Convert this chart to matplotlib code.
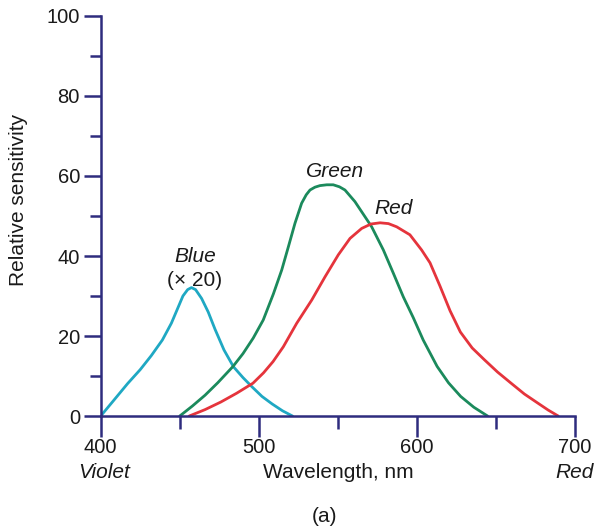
"""
Cone sensitivity curves (blue x20, green, red) vs wavelength.
Run : python plot.py  -> out.png
"""

import matplotlib
matplotlib.use("Agg")
import matplotlib.pyplot as plt
from matplotlib.ticker import MultipleLocator

# ── Data ──────────────────────────────────────────────────────
blue_nm  = [400, 408, 417, 425, 432, 439, 444.7, 449, 452, 455, 457.4, 460,
            463.8, 468, 472.3, 478, 484, 490, 495.7, 502, 508.5, 515, 521.3]
blue_val = [0, 3.8, 8.1, 11.6, 15.1, 19, 23.2, 27.2, 30, 31.6, 32.1, 31.6,
            29.4, 26, 21.7, 16.5, 12.3, 9.6, 7.3, 4.9, 3.0, 1.3, 0]

green_nm  = [450, 458, 466, 474, 483.7, 490, 496.5, 502.8, 509.2, 514.5, 518.7,
             522.9, 527.1, 530, 532.4, 535.5, 538.7, 543, 547.1, 551, 554.5,
             560.8, 567.2, 571.4, 578.8, 585.1, 591.4, 597.7, 604, 612.8, 620,
             627.7, 636, 644.7]
green_val = [0, 2.5, 5.2, 8.3, 12.4, 15.6, 19.5, 24, 30.5, 36.5, 42.3,
             48.2, 53.2, 55.3, 56.5, 57.2, 57.6, 57.8, 57.8, 57.3, 56.5,
             53.6, 49.8, 47.3, 41.5, 35.7, 29.8, 24.6, 19, 12.4, 8.3,
             4.9, 2.2, 0]

red_nm  = [456, 466, 476, 486, 496.3, 503, 509, 515.5, 524, 533.5, 541.9,
           550.3, 557.7, 565.1, 571, 576.7, 582, 587.2, 595.6, 603, 608.3,
           614.6, 621, 627.5, 635, 642.6, 651, 659.6, 668, 676.6, 683, 689.4]
red_val = [0, 1.6, 3.5, 5.7, 8.2, 10.8, 13.6, 17.3, 23.2, 29, 34.8,
           40.3, 44.4, 46.9, 48, 48.3, 48.1, 47.3, 45.3, 41.5, 38.3,
           32.5, 26.3, 21, 17, 14.1, 11, 8.2, 5.5, 3.2, 1.5, 0]

x_ticks = [400, 500, 600, 700]
y_ticks = [0, 20, 40, 60, 80, 100]

# ── Style ─────────────────────────────────────────────────────
AXIS_COLOR  = "#2e2c7e"
BLUE_COLOR  = "#1fa8c3"
GREEN_COLOR = "#1b8a5c"
RED_COLOR   = "#e5343c"
TEXT_COLOR  = "#1a1a1a"
FS      = 15
TICK_FS = 14.5

plt.rcParams["font.family"] = ["Liberation Sans", "DejaVu Sans"]

fig = plt.figure(figsize=(5.97, 5.26), dpi=100)
ax = fig.add_axes([0.1687, 0.2091, 0.9631 - 0.1687, 0.9696 - 0.2091])

for nm, val, col in [(blue_nm, blue_val, BLUE_COLOR),
                     (green_nm, green_val, GREEN_COLOR),
                     (red_nm, red_val, RED_COLOR)]:
    ax.plot(nm, val, color=col, linewidth=2.0, solid_joinstyle="round",
            solid_capstyle="round", zorder=3)

ax.set_xlim(400, 700)
ax.set_ylim(0, 100)
ax.set_xticks(x_ticks)
ax.set_yticks(y_ticks)
ax.xaxis.set_minor_locator(MultipleLocator(50))
ax.yaxis.set_minor_locator(MultipleLocator(10))

for side in ("top", "right"):
    ax.spines[side].set_visible(False)
for side in ("left", "bottom"):
    ax.spines[side].set_color(AXIS_COLOR)
    ax.spines[side].set_linewidth(1.8)
    ax.spines[side].set_zorder(4)

ax.tick_params(axis="y", which="major", direction="out", length=12,
               width=1.8, color=AXIS_COLOR, labelsize=TICK_FS,
               labelcolor=TEXT_COLOR, pad=3)
ax.tick_params(axis="y", which="minor", direction="out", length=8,
               width=1.8, color=AXIS_COLOR)
ax.tick_params(axis="x", which="major", direction="out", length=15,
               width=1.8, color=AXIS_COLOR, labelsize=TICK_FS,
               labelcolor=TEXT_COLOR, pad=1)
ax.tick_params(axis="x", which="minor", direction="out", length=9,
               width=1.8, color=AXIS_COLOR)
for t in ax.get_xticklines() + ax.get_yticklines():
    t.set_clip_on(False)

ax.set_ylabel("Relative sensitivity", fontsize=FS, color=TEXT_COLOR)
ax.yaxis.set_label_coords(-0.153, 0.54)

# ── Annotations ───────────────────────────────────────────────
ax.text(459.6, 40, "Blue", fontsize=FS, style="italic", color=TEXT_COLOR,
        ha="center", va="center")
ax.text(459.6, 33.8, "(\u00d7 20)", fontsize=FS, color=TEXT_COLOR,
        ha="center", va="center")
ax.text(548, 61, "Green", fontsize=FS, style="italic", color=TEXT_COLOR,
        ha="center", va="center")
ax.text(585, 52, "Red", fontsize=FS, style="italic", color=TEXT_COLOR,
        ha="center", va="center")

# texts below the x axis (figure coords)
fig.text(104 / 597, 1 - 472 / 526, "Violet", fontsize=FS, style="italic",
         color=TEXT_COLOR, ha="center", va="center")
fig.text(575 / 597, 1 - 472 / 526, "Red", fontsize=FS, style="italic",
         color=TEXT_COLOR, ha="center", va="center")
fig.text(338 / 597, 1 - 472 / 526, "Wavelength, nm", fontsize=FS,
         color=TEXT_COLOR, ha="center", va="center")
fig.text(325 / 597, 1 - 516 / 526, "(a)", fontsize=FS,
         color=TEXT_COLOR, ha="center", va="center")

fig.savefig("out.png", dpi=100)
plt.close(fig)
